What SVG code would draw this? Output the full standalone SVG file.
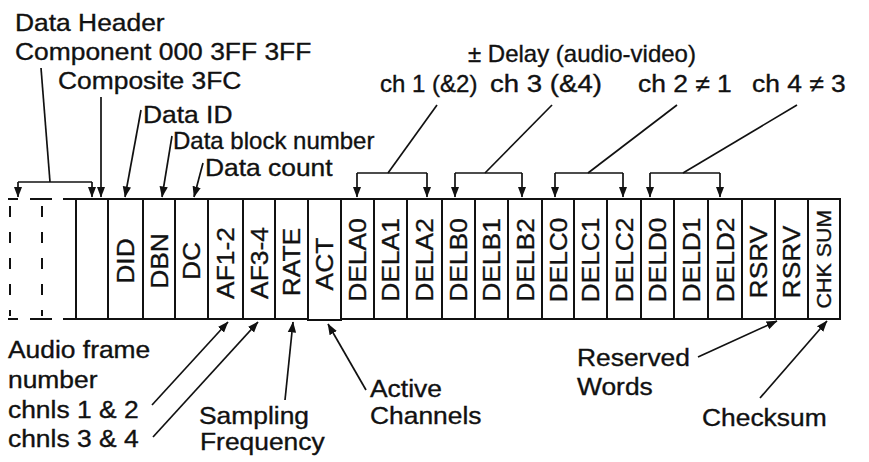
<svg xmlns="http://www.w3.org/2000/svg" width="869" height="462" viewBox="0 0 869 462">
<style>
.t { font-family: "Liberation Sans", Arial, sans-serif; font-size: 24px; fill: #111; stroke: #111; stroke-width: 0.35; }
.v { font-family: "Liberation Sans", Arial, sans-serif; font-size: 24px; fill: #111; stroke: #111; stroke-width: 0.35; text-anchor: middle; }
.cell { fill: #fff; stroke: #111; stroke-width: 2; }
.ln { stroke: #111; stroke-width: 1.7; fill: none; }
.arr { marker-end: url(#ah); }
.dash { stroke: #111; stroke-width: 2; fill: none; }
</style>
<defs>
<marker id="ah" markerUnits="userSpaceOnUse" markerWidth="11" markerHeight="11" viewBox="0 0 10 10" refX="9.5" refY="5" orient="auto">
<path d="M0,1.2 L10,5 L0,8.8 z" fill="#111"/>
</marker>
</defs>
<rect width="869" height="462" fill="#fff"/>

<g id="header-dashed">
<line class="dash" x1="8" y1="199" x2="18" y2="199"/>
<line class="dash" x1="30" y1="199" x2="52" y2="199"/>
<line class="dash" x1="63" y1="199" x2="76" y2="199"/>
<line class="dash" x1="8" y1="319" x2="18" y2="319"/>
<line class="dash" x1="30" y1="319" x2="52" y2="319"/>
<line class="dash" x1="63" y1="319" x2="76" y2="319"/>
<line class="dash" x1="10" y1="206" x2="10" y2="316" stroke-dasharray="11 15"/>
<line class="dash" x1="42" y1="206" x2="42" y2="316" stroke-dasharray="11 15"/>
</g>

<g id="cell-blank"><rect class="cell" x="76" y="199" width="32" height="120"/></g>
<g id="cell-did"><rect class="cell" x="108" y="199" width="35" height="120"/><text class="v" transform="translate(125.5,261) rotate(-90) scale(1.1,1)" y="8.5">DID</text></g>
<g id="cell-dbn"><rect class="cell" x="143" y="199" width="32" height="120"/><text class="v" transform="translate(159,261) rotate(-90) scale(1.1,1)" y="8.5">DBN</text></g>
<g id="cell-dc"><rect class="cell" x="175" y="199" width="33" height="120"/><text class="v" transform="translate(191.5,261) rotate(-90) scale(1.1,1)" y="8.5">DC</text></g>
<g id="cell-af12"><rect class="cell" x="208" y="199" width="35" height="120"/><text class="v" transform="translate(225.5,263) rotate(-90) scale(1.1,1)" y="8.5">AF1-2</text></g>
<g id="cell-af34"><rect class="cell" x="243" y="199" width="32" height="120"/><text class="v" transform="translate(259,263) rotate(-90) scale(1.1,1)" y="8.5">AF3-4</text></g>
<g id="cell-rate"><rect class="cell" x="275" y="199" width="33" height="120"/><text class="v" transform="translate(291.5,262) rotate(-90) scale(1.1,1)" y="8.5">RATE</text></g>
<g id="cell-act"><rect class="cell" x="308" y="199" width="33" height="121"/><text class="v" transform="translate(324.5,264) rotate(-90) scale(1.1,1)" y="8.5">ACT</text></g>
<g id="cell-dela0"><rect class="cell" x="341" y="199" width="33" height="120"/><text class="v" transform="translate(357.5,260) rotate(-90) scale(1.1,1)" y="8.5">DELA0</text></g>
<g id="cell-dela1"><rect class="cell" x="374" y="199" width="33" height="120"/><text class="v" transform="translate(390.5,260) rotate(-90) scale(1.1,1)" y="8.5">DELA1</text></g>
<g id="cell-dela2"><rect class="cell" x="407" y="199" width="35" height="120"/><text class="v" transform="translate(424.5,260) rotate(-90) scale(1.1,1)" y="8.5">DELA2</text></g>
<g id="cell-delb0"><rect class="cell" x="442" y="199" width="33" height="120"/><text class="v" transform="translate(458.5,260) rotate(-90) scale(1.1,1)" y="8.5">DELB0</text></g>
<g id="cell-delb1"><rect class="cell" x="475" y="199" width="33" height="120"/><text class="v" transform="translate(491.5,260) rotate(-90) scale(1.1,1)" y="8.5">DELB1</text></g>
<g id="cell-delb2"><rect class="cell" x="508" y="199" width="34" height="120"/><text class="v" transform="translate(525,260) rotate(-90) scale(1.1,1)" y="8.5">DELB2</text></g>
<g id="cell-delc0"><rect class="cell" x="542" y="199" width="32" height="120"/><text class="v" transform="translate(558,260) rotate(-90) scale(1.1,1)" y="8.5">DELC0</text></g>
<g id="cell-delc1"><rect class="cell" x="574" y="199" width="33" height="120"/><text class="v" transform="translate(590.5,260) rotate(-90) scale(1.1,1)" y="8.5">DELC1</text></g>
<g id="cell-delc2"><rect class="cell" x="607" y="199" width="34" height="120"/><text class="v" transform="translate(624,260) rotate(-90) scale(1.1,1)" y="8.5">DELC2</text></g>
<g id="cell-deld0"><rect class="cell" x="641" y="199" width="33" height="120"/><text class="v" transform="translate(657.5,260) rotate(-90) scale(1.1,1)" y="8.5">DELD0</text></g>
<g id="cell-deld1"><rect class="cell" x="674" y="199" width="34" height="120"/><text class="v" transform="translate(691,260) rotate(-90) scale(1.1,1)" y="8.5">DELD1</text></g>
<g id="cell-deld2"><rect class="cell" x="708" y="199" width="34" height="120"/><text class="v" transform="translate(725,260) rotate(-90) scale(1.1,1)" y="8.5">DELD2</text></g>
<g id="cell-rsrv1"><rect class="cell" x="742" y="199" width="33" height="120"/><text class="v" transform="translate(758.5,262) rotate(-90) scale(1.1,1)" y="8.5">RSRV</text></g>
<g id="cell-rsrv2"><rect class="cell" x="775" y="199" width="33" height="120"/><text class="v" transform="translate(791.5,262) rotate(-90) scale(1.1,1)" y="8.5">RSRV</text></g>
<g id="cell-chksum"><rect class="cell" x="808" y="199" width="32" height="120"/><text class="v" style="font-size:19.5px" transform="translate(824,259) rotate(-90) scale(1.1,1)" y="7">CHK SUM</text></g>

<g id="labels-top">
<text class="t" transform="translate(15,31) scale(1.1,1)">Data Header</text>
<text class="t" transform="translate(15,60) scale(1.1,1)">Component 000 3FF 3FF</text>
<text class="t" transform="translate(58,89) scale(1.1,1)">Composite 3FC</text>
<text class="t" transform="translate(143,123) scale(1.1,1)">Data ID</text>
<text class="t" transform="translate(173,149) scale(1.0,1)">Data block number</text>
<text class="t" transform="translate(205,176) scale(1.1,1)">Data count</text>
<text class="t" transform="translate(468,62)">± Delay (audio-video)</text>
<text class="t" transform="translate(380,92)">ch 1 (&amp;2)</text>
<text class="t" transform="translate(490,92) scale(1.15,1)">ch 3 (&amp;4)</text>
<text class="t" transform="translate(638,92) scale(1.1,1)">ch 2 ≠ 1</text>
<text class="t" transform="translate(752,92) scale(1.1,1)">ch 4 ≠ 3</text>
</g>

<g id="labels-bottom">
<text class="t" transform="translate(8,358) scale(1.1,1)">Audio frame</text>
<text class="t" transform="translate(8,388) scale(1.1,1)">number</text>
<text class="t" transform="translate(8,418) scale(1.1,1)">chnls 1 &amp; 2</text>
<text class="t" transform="translate(8,447) scale(1.1,1)">chnls 3 &amp; 4</text>
<text class="t" transform="translate(199,424) scale(1.1,1)">Sampling</text>
<text class="t" transform="translate(200,450) scale(1.1,1)">Frequency</text>
<text class="t" transform="translate(370,397) scale(1.1,1)">Active</text>
<text class="t" transform="translate(370,424) scale(1.1,1)">Channels</text>
<text class="t" transform="translate(577,366) scale(1.1,1)">Reserved</text>
<text class="t" transform="translate(577,395) scale(1.1,1)">Words</text>
<text class="t" transform="translate(702,426) scale(1.1,1)">Checksum</text>
</g>

<g id="connectors">
<line class="ln" x1="41" y1="68" x2="50" y2="182"/>
<path class="ln" d="M18,182 H92"/>
<line class="ln arr" x1="18" y1="182" x2="18" y2="197"/>
<line class="ln arr" x1="92" y1="182" x2="92" y2="197"/>
<line class="ln arr" x1="101" y1="97" x2="101" y2="197"/>
<line class="ln arr" x1="141" y1="110" x2="125" y2="197"/>
<line class="ln arr" x1="172" y1="136" x2="162" y2="197"/>
<line class="ln arr" x1="203" y1="163" x2="194" y2="197"/>

<line class="ln" x1="437" y1="105" x2="388" y2="173"/>
<path class="ln" d="M357,173 H427"/>
<line class="ln arr" x1="357" y1="173" x2="357" y2="197"/>
<line class="ln arr" x1="427" y1="173" x2="427" y2="197"/>

<line class="ln" x1="552" y1="105" x2="485" y2="173"/>
<path class="ln" d="M455,173 H522"/>
<line class="ln arr" x1="455" y1="173" x2="455" y2="197"/>
<line class="ln arr" x1="522" y1="173" x2="522" y2="197"/>

<line class="ln" x1="677" y1="105" x2="588" y2="173"/>
<path class="ln" d="M555,173 H623"/>
<line class="ln arr" x1="555" y1="173" x2="555" y2="197"/>
<line class="ln arr" x1="623" y1="173" x2="623" y2="197"/>

<line class="ln" x1="797" y1="105" x2="683" y2="173"/>
<path class="ln" d="M650,173 H720"/>
<line class="ln arr" x1="650" y1="173" x2="650" y2="197"/>
<line class="ln arr" x1="720" y1="173" x2="720" y2="197"/>

<line class="ln arr" x1="152" y1="405" x2="228" y2="322"/>
<line class="ln arr" x1="153" y1="437" x2="258" y2="322"/>
<line class="ln arr" x1="285" y1="400" x2="293" y2="322"/>
<line class="ln arr" x1="366" y1="390" x2="328" y2="324"/>
<line class="ln arr" x1="698" y1="357" x2="777" y2="321"/>
<line class="ln arr" x1="760" y1="398" x2="827" y2="321"/>
</g>
</svg>
